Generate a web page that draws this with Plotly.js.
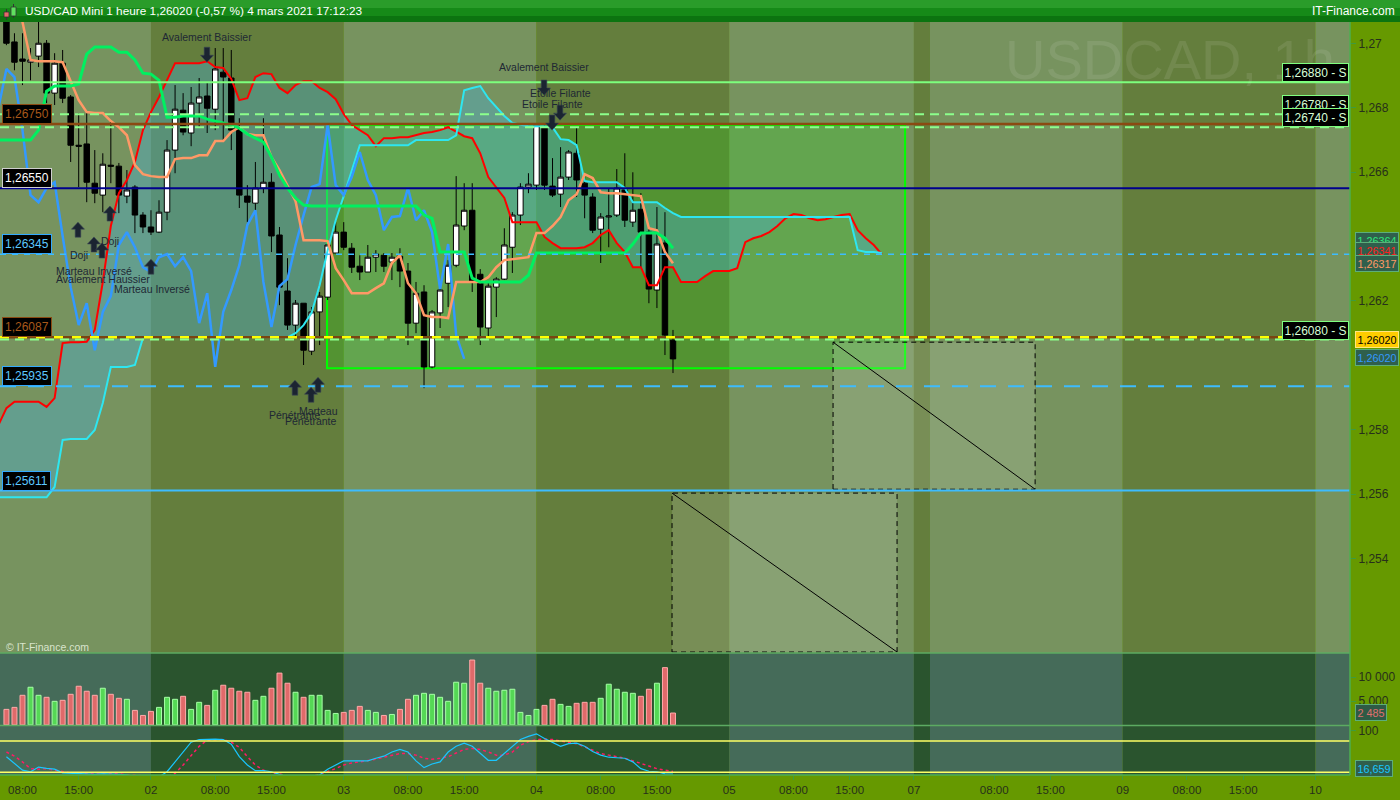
<!DOCTYPE html>
<html>
<head>
<meta charset="utf-8">
<script src="https://cdn.plot.ly/plotly-3.0.1.min.js"></script>
<style>
html,body{margin:0;padding:0;background:#669900;overflow:hidden;}
#chart{width:1400px;height:800px;}
</style>
</head>
<body>
<div id="chart"></div>
<script>
// ================= DATA =================
// Hourly candles, USD/CAD Mini, from 1 Mar 2021 06:00 (x = trading-hour index since 1 Mar 00:00)
const candleStartHour = 6;
const opens = [1.27067,1.27005,1.26952,1.26942,1.26961,1.27001,1.26846,1.26939,1.26834,1.26684,
 1.26688,1.26566,1.26529,1.26622,1.26619,1.26526,1.26554,1.26467,1.26430,1.26414,
 1.26476,1.26669,1.26793,1.26722,1.26815,1.26837,1.26796,1.26911,1.26893,1.26737,
 1.26526,1.26504,1.26551,1.26569,1.26405,1.26231,1.26125,1.26193,1.26044,1.26166,
 1.26212,1.26349,1.26414,1.26364,1.26308,1.26290,1.26336,1.26342,1.26321,1.26339,
 1.26293,1.26131,1.26228,1.25995,1.26163,1.26255,1.26311,1.26433,1.26482,1.26283,
 1.26116,1.26243,1.26268,1.26367,1.26467,1.26554,1.26560,1.26740,1.26557,1.26532,
 1.26585,1.26659,1.26566,1.26523,1.26423,1.26461,1.26467,1.26545,1.26445,1.26485,
 1.26414,1.26234,1.26380,1.26078];
const highs = [1.27079,1.27032,1.27032,1.26986,1.27067,1.27011,1.26970,1.26980,1.26840,1.26784,
 1.26787,1.26669,1.26659,1.26762,1.26629,1.26607,1.26560,1.26476,1.26482,1.26513,
 1.26700,1.26871,1.26846,1.26865,1.26893,1.26877,1.26986,1.26986,1.26980,1.26768,
 1.26560,1.26632,1.26768,1.26597,1.26430,1.26333,1.26203,1.26193,1.26181,1.26228,
 1.26389,1.26445,1.26445,1.26380,1.26342,1.26374,1.26358,1.26349,1.26349,1.26364,
 1.26318,1.26259,1.26249,1.26172,1.26243,1.26327,1.26588,1.26566,1.26566,1.26299,
 1.26259,1.26274,1.26426,1.26476,1.26566,1.26597,1.26747,1.26747,1.26644,1.26678,
 1.26669,1.26740,1.26585,1.26535,1.26473,1.26551,1.26610,1.26659,1.26600,1.26535,
 1.26426,1.26492,1.26476,1.26110];
const lows = [1.26995,1.26917,1.26871,1.26886,1.26927,1.26815,1.26809,1.26815,1.26632,1.26554,
 1.26507,1.26504,1.26476,1.26566,1.26473,1.26504,1.26411,1.26411,1.26405,1.26411,
 1.26451,1.26597,1.26715,1.26681,1.26740,1.26722,1.26731,1.26700,1.26669,1.26489,
 1.26445,1.26467,1.26535,1.26352,1.26187,1.26110,1.26088,1.26001,1.26032,1.26063,
 1.26203,1.26349,1.26358,1.26287,1.26265,1.26290,1.26290,1.26290,1.26265,1.26243,
 1.26063,1.26100,1.25929,1.25991,1.26116,1.26181,1.26305,1.26420,1.26228,1.26063,
 1.26088,1.26150,1.26265,1.26287,1.26436,1.26535,1.26545,1.26545,1.26523,1.26492,
 1.26576,1.26523,1.26457,1.26411,1.26318,1.26367,1.26461,1.26430,1.26430,1.26305,
 1.26193,1.26178,1.26032,1.25976];
const closes = [1.27001,1.26942,1.26945,1.26949,1.27001,1.26846,1.26939,1.26830,1.26684,1.26681,
 1.26569,1.26535,1.26625,1.26619,1.26529,1.26545,1.26467,1.26430,1.26414,1.26476,
 1.26669,1.26796,1.26725,1.26815,1.26834,1.26799,1.26921,1.26896,1.26731,1.26529,
 1.26507,1.26551,1.26569,1.26402,1.26243,1.26125,1.26193,1.26047,1.26166,1.26215,
 1.26374,1.26414,1.26367,1.26305,1.26290,1.26336,1.26346,1.26308,1.26336,1.26293,
 1.26131,1.26224,1.25995,1.26166,1.26234,1.26311,1.26436,1.26482,1.26259,1.26119,
 1.26246,1.26268,1.26374,1.26467,1.26554,1.26563,1.26747,1.26560,1.26529,1.26585,
 1.26663,1.26576,1.26529,1.26420,1.26461,1.26464,1.26551,1.26451,1.26482,1.26414,
 1.26237,1.26377,1.26094,1.26020];
const volumes = [3250,3670,6200,7890,6200,5780,4940,5150,6410,8100,
 7050,6200,7680,6410,5570,5360,3040,1980,2830,3670,
 5780,5360,5990,3250,4730,4090,7260,8310,7680,7050,
 6840,5150,5990,7680,10850,8730,6840,5780,6200,6200,
 3040,2400,2620,3040,3880,3040,2620,1980,2190,3250,
 5360,6200,6620,6410,5780,4940,8940,8730,13590,8730,
 7680,7050,7260,7470,2620,1980,3250,4090,5360,4300,
 3880,4520,4730,4730,5570,8520,7470,6840,6620,5990,
 7470,8730,12000,2485];
const volumeUp = [0,0,0,1,1,0,1,0,0,0,
 0,0,1,0,0,1,0,0,0,1,
 1,1,0,1,1,0,1,0,0,0,
 0,1,1,0,0,0,1,0,1,1,
 1,1,0,0,0,1,1,0,1,0,
 0,1,1,1,1,1,1,1,0,0,
 1,1,1,1,1,1,1,0,0,1,
 1,0,0,0,1,1,1,1,1,0,
 0,1,0,0];
const stochK = [50,37,24,21,30,27.5,26,19,18,17,
 17,16,17,17,16,15,11,12,11,11,
 21,40,59,78,83,84,84,83,74,50,
 34,23,23,21,16,11,10,10,12,15,
 26,34,42,42,42,42,47,51,59,64,
 59,42,29,36,40,59,70,76,70,56,
 43,43,56,70,83,89,94,85,78,70,
 75,76,70,60,53,49,48,47,40,27,
 22,21,17,16.659];
const stochD = [59,51,40,27,26,27,24,21,19,18,
 17,16,16,17,17,15,15,13,11,11,
 11,18,34,53,70,82,83,83,78,68,
 50,34,24,19,17,12,11,11,12,16,
 21,27,34,38,40,42,45,49,53,56,
 56,53,47,45,47,50,57,64,66,64,
 59,53,53,59,72,79,83,84,83,80,
 78,75,69,63,56,53,50,47,42,37,
 32,27,24,21.4];

// Ichimoku lines, hourly from 1 Mar 05:00
const lineStartHour = 5;
const tenkan = [1.27190,
 1.27166,1.27135,1.27067,1.26949,1.26945,1.26945,1.26945,1.26942,1.26880,1.26824,
 1.26787,1.26784,1.26784,1.26759,1.26740,1.26715,1.26622,1.26594,1.26588,1.26585,
 1.26585,1.26641,1.26644,1.26644,1.26653,1.26653,1.26697,1.26697,1.26725,1.26740,
 1.26719,1.26715,1.26715,1.26647,1.26607,1.26560,1.26510,1.26389,1.26389,1.26389,
 1.26386,1.26302,1.26265,1.26224,1.26224,1.26224,1.26240,1.26255,1.26318,1.26342,
 1.26255,1.26224,1.26156,1.26150,1.26150,1.26147,1.26259,1.26259,1.26259,1.26259,
 1.26274,1.26305,1.26327,1.26330,1.26333,1.26336,1.26411,1.26411,1.26433,1.26461,
 1.26513,1.26532,1.26594,1.26582,1.26538,1.26535,1.26535,1.26532,1.26529,1.26526,
 1.26426,1.26420,1.26352,1.26317];
const kijun = [1.26700,
 1.26700,1.26700,1.26700,1.26700,1.26731,1.26852,1.26868,1.26868,1.26868,1.26874,
 1.26967,1.26989,1.26989,1.26989,1.26973,1.26973,1.26949,1.26908,1.26905,1.26886,
 1.26771,1.26771,1.26775,1.26775,1.26775,1.26765,1.26759,1.26753,1.26747,1.26737,
 1.26719,1.26706,1.26694,1.26647,1.26591,1.26551,1.26520,1.26498,1.26495,1.26495,
 1.26495,1.26495,1.26495,1.26495,1.26495,1.26495,1.26495,1.26495,1.26495,1.26495,
 1.26495,1.26495,1.26467,1.26457,1.26352,1.26352,1.26352,1.26352,1.26271,1.26259,
 1.26259,1.26259,1.26259,1.26259,1.26259,1.26280,1.26349,1.26349,1.26349,1.26349,
 1.26349,1.26349,1.26349,1.26349,1.26349,1.26349,1.26349,1.26349,1.26377,1.26411,
 1.26411,1.26411,1.26395,1.26364];
const senkouA = [1.25814,
 1.25867,1.25887,1.25887,1.25887,1.25887,1.25871,1.25898,1.26069,1.26072,1.26072,
 1.26073,1.26110,1.26259,1.26433,1.26535,1.26576,1.26632,1.26731,1.26787,1.26834,
 1.26886,1.26939,1.26939,1.26939,1.26939,1.26945,1.26927,1.26924,1.26890,1.26824,
 1.26830,1.26896,1.26908,1.26905,1.26862,1.26846,1.26871,1.26883,1.26883,1.26862,
 1.26849,1.26827,1.26781,1.26747,1.26731,1.26715,1.26681,1.26706,1.26706,1.26709,
 1.26709,1.26715,1.26722,1.26725,1.26731,1.26740,1.26725,1.26712,1.26706,1.26659,
 1.26585,1.26551,1.26520,1.26445,1.26445,1.26445,1.26445,1.26399,1.26380,1.26364,
 1.26364,1.26364,1.26367,1.26380,1.26405,1.26420,1.26380,1.26352,1.26305,1.26305,
 1.26249,1.26249,1.26305,1.26305,1.26259,1.26259,1.26259,1.26277,1.26293,1.26293,
 1.26293,1.26302,1.26383,1.26395,1.26402,1.26414,1.26433,1.26457,1.26470,1.26467,
 1.26457,1.26451,1.26454,1.26461,1.26467,1.26470,1.26420,1.26395,1.26374,1.26345];
const senkouB = [1.25590,
 1.25590,1.25590,1.25590,1.25590,1.25590,1.25590,1.25622,1.25768,1.25771,1.25771,
 1.25771,1.25799,1.25883,1.25995,1.25995,1.25995,1.26001,1.26085,1.26087,1.26087,
 1.26087,1.26087,1.26087,1.26087,1.26087,1.26087,1.26087,1.26087,1.26087,1.26087,
 1.26087,1.26087,1.26087,1.26087,1.26087,1.26087,1.26100,1.26125,1.26163,1.26249,
 1.26358,1.26451,1.26526,1.26607,1.26684,1.26684,1.26684,1.26684,1.26684,1.26684,
 1.26684,1.26700,1.26700,1.26700,1.26700,1.26700,1.26715,1.26855,1.26862,1.26868,
 1.26830,1.26802,1.26775,1.26753,1.26747,1.26743,1.26743,1.26743,1.26740,1.26703,
 1.26700,1.26684,1.26573,1.26569,1.26569,1.26569,1.26569,1.26551,1.26507,1.26507,
 1.26507,1.26507,1.26489,1.26473,1.26461,1.26461,1.26461,1.26461,1.26461,1.26461,
 1.26461,1.26461,1.26461,1.26461,1.26461,1.26461,1.26461,1.26461,1.26461,1.26461,
 1.26461,1.26461,1.26461,1.26461,1.26461,1.26461,1.26358,1.26352,1.26352,1.26349];
const chikouShift = 26;

// Axis ticks
const tickHours  = [8,15,24,32,39,48,56,63,72,80,87,96,104,111,119,129,136,145,153,160,169];
const tickLabels = ['08:00','15:00','02','08:00','15:00','03','08:00','15:00','04','08:00','15:00',
                    '05','08:00','15:00','07','08:00','15:00','09','08:00','15:00','10'];
const dayStartHours = [24,48,72,96,119,121,145,169];
const priceTicks = [1.254,1.256,1.258,1.262,1.266,1.268,1.27];
const priceTickText = ['1,254','1,256','1,258','1,262','1,266','1,268','1,27'];

// Horizontal reference levels
const supportLevels = [1.26880, 1.26780, 1.26740, 1.26080];
const supportLabels = ['1,26880 - S','1,26780 - S','1,26740 - S','1,26080 - S'];
const userLevels = [1.26750, 1.26550, 1.26345, 1.26087, 1.25935, 1.25611];
const userLabels = ['1,26750','1,26550','1,26345','1,26087','1,25935','1,25611'];

// ================= BUILD =================
const W = 1400, H = 800, M = {l:0, r:50, t:22, b:25};
const PW = W - M.l - M.r, PH = H - M.t - M.b;
const fy = px => (H - M.b - px) / PH;
const fx = px => (px - M.l) / PW;
const X0 = 5.2, X1 = 173.3;
const priceRange = [1.25106, 1.27067];
const volRange = [-127, 15065];
const stochRange = [14.75, 108.6];
const PD = fy(653), VD = fy(725.5);

const candleHours = opens.map((_, i) => candleStartHour + i);
const lineHours = senkouA.map((_, i) => lineStartHour + i);
const tkHours = tenkan.map((_, i) => lineStartHour + i);
const chikouX = [], chikouY = [];
closes.forEach((c, j) => { const h = candleHours[j] - chikouShift; if (h >= lineStartHour) { chikouX.push(h); chikouY.push(c); } });

const FONT = 'Liberation Sans, Arial, sans-serif';

const traces = [
  {type:'scatter', mode:'lines', x:lineHours, y:senkouB, xaxis:'x', yaxis:'y', line:{width:0, color:'rgba(0,0,0,0)'}, hoverinfo:'skip'},
  {type:'scatter', mode:'lines', x:lineHours, y:senkouA, xaxis:'x', yaxis:'y', line:{width:0, color:'rgba(0,0,0,0)'}, fill:'tonexty', fillcolor:'rgba(70,175,215,0.38)', hoverinfo:'skip'},
  {type:'candlestick', x:candleHours, open:opens, high:highs, low:lows, close:closes, xaxis:'x', yaxis:'y4',
   increasing:{line:{color:'#000000', width:1}, fillcolor:'#ffffff'},
   decreasing:{line:{color:'#000000', width:1}, fillcolor:'#000000'}, whiskerwidth:0, hoverinfo:'skip'},
  {type:'bar', x:candleHours, y:volumes, xaxis:'x', yaxis:'y2', width:0.62,
   marker:{color:volumeUp.map(u => u ? '#55d855' : '#e06a6a'), line:{color:volumeUp.map(u => u ? '#a6ffa6' : '#ffaaaa'), width:1}}, hoverinfo:'skip'},
  {type:'scatter', mode:'lines', x:candleHours, y:stochD, xaxis:'x', yaxis:'y3', line:{color:'#ff1a66', width:1.5, dash:'dot'}, hoverinfo:'skip'},
  {type:'scatter', mode:'lines', x:candleHours, y:stochK, xaxis:'x', yaxis:'y3', line:{color:'#19c6ff', width:1.2}, hoverinfo:'skip'},
  {type:'scatter', mode:'lines', x:lineHours, y:senkouA, xaxis:'x', yaxis:'y5', line:{color:'#ff0000', width:2}, hoverinfo:'skip'},
  {type:'scatter', mode:'lines', x:lineHours, y:senkouB, xaxis:'x', yaxis:'y5', line:{color:'#2ee6f0', width:2}, hoverinfo:'skip'},
  {type:'scatter', mode:'lines', x:chikouX, y:chikouY, xaxis:'x', yaxis:'y5', line:{color:'#3399ff', width:2.5}, hoverinfo:'skip'},
  {type:'scatter', mode:'lines', x:tkHours, y:tenkan, xaxis:'x', yaxis:'y5', line:{color:'#ff9966', width:2.5}, hoverinfo:'skip'},
  {type:'scatter', mode:'lines', x:tkHours, y:kijun, xaxis:'x', yaxis:'y5', line:{color:'#00f060', width:3}, hoverinfo:'skip'}
];

const shapes = [];
// day bands
const edges = [X0, ...dayStartHours, X1];
for (let k = 0; k < edges.length - 1; k++) {
  const light = k % 2 === 0;
  shapes.push({type:'rect', xref:'x', yref:'paper', x0:edges[k], x1:edges[k+1], y0:PD, y1:1,
    fillcolor: light ? '#77935f' : '#647e3d', line:{width:0}, layer:'below'});
  shapes.push({type:'rect', xref:'x', yref:'paper', x0:edges[k], x1:edges[k+1], y0:0, y1:PD,
    fillcolor: light ? '#456b59' : '#2a542e', line:{width:0}, layer:'below'});
}
// green zone rectangle
shapes.push({type:'rect', xref:'x', yref:'y', x0:45.92, x1:117.9, y0:1.25991, y1:1.26747,
  fillcolor:'rgba(0,255,0,0.17)', line:{color:'#00ff00', width:2}, layer:'below'});
// dashed projection boxes
shapes.push({type:'rect', xref:'x', yref:'y', x0:108.93, x1:134.09, y0:1.25615, y1:1.26072,
  fillcolor:'rgba(255,255,255,0.13)', line:{color:'#000000', width:1, dash:'5px,4px'}, layer:'below'});
shapes.push({type:'line', xref:'x', yref:'y', x0:108.93, x1:134.09, y0:1.26072, y1:1.25615, line:{color:'#000000', width:1}, layer:'below'});
shapes.push({type:'rect', xref:'x', yref:'y', x0:88.88, x1:116.9, y0:1.25109, y1:1.25603,
  fillcolor:'rgba(255,255,255,0.13)', line:{color:'#000000', width:1, dash:'5px,4px'}, layer:'below'});
shapes.push({type:'line', xref:'x', yref:'y', x0:88.88, x1:116.9, y0:1.25603, y1:1.25109, line:{color:'#000000', width:1}, layer:'below'});

// horizontal levels
const hl = (p, color, width, dash) => shapes.push({type:'line', xref:'paper', yref:'y', x0:0, x1:1, y0:p, y1:p, line:{color, width, dash}, layer:'above'});
hl(supportLevels[0], '#7dff7d', 2, 'solid');
hl(supportLevels[1], '#8cff8c', 2, '9px,6px');
hl(supportLevels[2], '#8cff8c', 2, '9px,6px');
hl(userLevels[0], '#8b4a12', 2.5, 'solid');
hl(userLevels[1], '#00008c', 2, 'solid');
hl(userLevels[2], '#3dbcff', 1.6, '6px,6px');
hl(userLevels[3], '#7a4510', 2.5, 'solid');
hl(userLevels[3], '#ffff00', 2.5, '9px,9px');
hl(supportLevels[3], '#8cff8c', 2, '9px,6px');
hl(userLevels[4], '#3dbcff', 2, '16px,12px');
hl(userLevels[5], '#3dbcff', 2, 'solid');

// stochastic reference lines
[80, 20].forEach(v => shapes.push({type:'line', xref:'paper', yref:'y3', x0:0, x1:1, y0:v, y1:v, line:{color:'#ffff66', width:1.5}, layer:'above'}));
// panel separators / borders
[PD, VD].forEach(v => shapes.push({type:'line', xref:'paper', yref:'paper', x0:0, x1:1, y0:v, y1:v, line:{color:'#5cab62', width:1.5}, layer:'above'}));
shapes.push({type:'line', xref:'paper', yref:'paper', x0:0, x1:1, y0:0, y1:0, line:{color:'#4caf50', width:1.5}, layer:'above'});
shapes.push({type:'line', xref:'paper', yref:'paper', x0:1, x1:1, y0:0, y1:1, line:{color:'#4caf50', width:1.5}, layer:'above'});

// pattern arrows
const patternArrows = [
 {h:30.97, p:1.26942, d:-1}, {h:72.94, p:1.26840, d:-1}, {h:74.93, p:1.26762, d:-1}, {h:73.94, p:1.26731, d:-1},
 {h:14.91, p:1.26445, d:1}, {h:16.9, p:1.26399, d:1}, {h:17.9, p:1.26380, d:1}, {h:18.89, p:1.26495, d:1}, {h:24, p:1.26330, d:1},
 {h:41.93, p:1.25954, d:1}, {h:43.93, p:1.25932, d:1}, {h:44.8, p:1.25963, d:1}
];
patternArrows.forEach(a => {
  const s = a.d;  // 1 = up arrow (tip at anchor, body below)
  const path = `M0,0 L-6.5,${-7*s} L-2.8,${-7*s} L-2.8,${-15*s} L2.8,${-15*s} L2.8,${-7*s} L6.5,${-7*s} Z`;
  shapes.push({type:'path', xref:'x', yref:'y', xsizemode:'pixel', ysizemode:'pixel', xanchor:a.h, yanchor:a.p,
    path, fillcolor:'#1b2431', line:{color:'#3a4656', width:0.6}, layer:'above'});
});

// header bar
const hy = px => fy(px);
shapes.push({type:'rect', xref:'paper', yref:'paper', x0:fx(0), x1:fx(1400), y0:hy(22), y1:hy(0), fillcolor:'#168a18', line:{width:0}, layer:'above'});
shapes.push({type:'rect', xref:'paper', yref:'paper', x0:fx(0), x1:fx(1400), y0:hy(8), y1:hy(0), fillcolor:'#2a9c2a', line:{width:0}, layer:'above'});
shapes.push({type:'rect', xref:'paper', yref:'paper', x0:fx(0), x1:fx(1400), y0:hy(22), y1:hy(16), fillcolor:'#0c7410', line:{width:0}, layer:'above'});
// header icon
shapes.push({type:'line', xref:'paper', yref:'paper', x0:fx(6.5), x1:fx(6.5), y0:hy(20), y1:hy(9), line:{color:'#333', width:1}, layer:'above'});
shapes.push({type:'rect', xref:'paper', yref:'paper', x0:fx(4), x1:fx(9), y0:hy(17), y1:hy(12), fillcolor:'#e86a6a', line:{color:'#333', width:0.8}, layer:'above'});
shapes.push({type:'line', xref:'paper', yref:'paper', x0:fx(13.5), x1:fx(13.5), y0:hy(18), y1:hy(4), line:{color:'#333', width:1}, layer:'above'});
shapes.push({type:'rect', xref:'paper', yref:'paper', x0:fx(11), x1:fx(16), y0:hy(16), y1:hy(7), fillcolor:'#5fe05f', line:{color:'#333', width:0.8}, layer:'above'});

// ================= ANNOTATIONS =================
const annotations = [];
// watermark
annotations.push({xref:'paper', yref:'paper', x:fx(1003), y:fy(60), xanchor:'left', yanchor:'middle', showarrow:false,
  text:'USDCAD, 1h', font:{family:FONT, size:56, color:'rgba(255,255,255,0.09)'}});
// header texts
annotations.push({xref:'paper', yref:'paper', x:fx(23), y:fy(11), xanchor:'left', yanchor:'middle', showarrow:false,
  text:'USD/CAD Mini 1 heure 1,26020 (-0,57 %) 4 mars 2021 17:12:23', font:{family:FONT, size:11.8, color:'#ffffff'}});
annotations.push({xref:'paper', yref:'paper', x:fx(1397), y:fy(11), xanchor:'right', yanchor:'middle', showarrow:false,
  text:'IT-Finance.com', font:{family:FONT, size:12, color:'#ffffff'}});
// copyright
annotations.push({xref:'paper', yref:'paper', x:fx(4), y:fy(647), xanchor:'left', yanchor:'middle', showarrow:false,
  text:'© IT-Finance.com', font:{family:FONT, size:10.5, color:'rgba(235,245,225,0.85)'}});

// pattern labels
const patternLabels = [
 {h:30.97, p:1.27020, t:'Avalement Baissier'},
 {h:72.94, p:1.26927, t:'Avalement Baissier'},
 {h:74.93, p:1.26846, t:'Etoile Filante'},
 {h:73.94, p:1.26812, t:'Etoile Filante'},
 {h:18.89, p:1.26386, t:'Doji'},
 {h:15.03, p:1.26342, t:'Doji'},
 {h:16.9,  p:1.26293, t:'Marteau Inversé'},
 {h:18.02, p:1.26268, t:'Avalement Haussier'},
 {h:24.12, p:1.26237, t:'Marteau Inversé'},
 {h:44.92, p:1.25858, t:'Marteau'},
 {h:41.93, p:1.25845, t:'Pénétrante'},
 {h:43.93, p:1.25827, t:'Pénétrante'}
];
patternLabels.forEach(l => annotations.push({xref:'x', yref:'y', x:l.h, y:l.p, xanchor:'center', yanchor:'middle', showarrow:false,
  text:l.t, font:{family:FONT, size:10.5, color:'#1e2834'}}));

// left level boxes
const userStyles = [
 {b:'#8b4a12', f:'#a8581a'}, {b:'#cfcfcf', f:'#ffffff'}, {b:'#33aaff', f:'#5cc8ff'},
 {b:'#8b4a12', f:'#a8581a'}, {b:'#33aaff', f:'#5cc8ff'}, {b:'#33aaff', f:'#5cc8ff'}];
userLevels.forEach((p, k) => annotations.push({xref:'paper', yref:'y', x:fx(2), y:p, xanchor:'left', yanchor:'bottom', showarrow:false,
  text:userLabels[k], bgcolor:'#000000', bordercolor:userStyles[k].b, borderwidth:1, borderpad:2,
  font:{family:FONT, size:12, color:userStyles[k].f}}));
// right support boxes
supportLevels.forEach((p, k) => annotations.push({xref:'paper', yref:'y', x:1, xshift:-1, y:p, xanchor:'right', yanchor:'bottom', showarrow:false,
  text:supportLabels[k], bgcolor:'#000000', bordercolor:'#80ff80', borderwidth:1, borderpad:1.5,
  font:{family:FONT, size:12, color:'#d8ffd8'}}));

// right axis value tags
const tag = (yref, y, text, fg, bg, bd) => annotations.push({xref:'paper', yref, x:fx(1355), y, xanchor:'left', yanchor:'middle', showarrow:false,
  text, bgcolor:bg, bordercolor:bd, borderwidth:1, borderpad:1.5, font:{family:FONT, size:10.8, color:fg}});
tag('y', 1.26389, '1,26364', '#2ee87a', '#2f5f4c', '#5cae7a');
tag('y', 1.26357, '1,26341', '#ff2020', '#2f5f4c', '#5cae7a');
tag('y', 1.26318, '1,26317', '#ff9966', '#2f5f4c', '#5cae7a');
tag('y', 1.26079, '1,26020', '#000000', '#ffcc00', '#ffe680');
tag('y', 1.26025, '1,26020', '#3399ff', '#2f5f4c', '#5cae7a');
tag('y2', 2616, '2 485', '#e07070', '#2f5a45', '#5cae7a');
tag('y3', 28.2, '16,659', '#19c6ff', '#2f5f4c', '#5cae7a');

const axFont = {family:FONT, size:12, color:'#27301b'};
const yCommon = {side:'right', anchor:'x', ticks:'outside', ticklen:5, tickcolor:'#3f9a3f', tickfont:axFont,
  showgrid:false, zeroline:false, showline:false, fixedrange:true};

const layout = {
  width:W, height:H, margin:{l:M.l, r:M.r, t:M.t, b:M.b, pad:0},
  paper_bgcolor:'#669900', plot_bgcolor:'rgba(0,0,0,0)',
  showlegend:false, hovermode:false, separators:', ',
  boxgap:0.15, boxgroupgap:0.2,
  xaxis:{range:[X0, X1], anchor:'y3', tickvals:tickHours, ticktext:tickLabels, ticks:'outside', ticklen:4,
    tickcolor:'#3f9a3f', tickfont:{family:FONT, size:11.5, color:'#27301b'}, showgrid:false, zeroline:false,
    showline:false, fixedrange:true, rangeslider:{visible:false}},
  yaxis:Object.assign({}, yCommon, {domain:[PD, 1], range:priceRange, tickvals:priceTicks, ticktext:priceTickText}),
  yaxis2:Object.assign({}, yCommon, {domain:[VD, PD], range:volRange, tickvals:[5000, 10000], ticktext:['5 000', '10 000']}),
  yaxis3:Object.assign({}, yCommon, {domain:[0, VD - 0.001], range:stochRange, tickvals:[100], ticktext:['100']}),
  yaxis4:{overlaying:'y', anchor:'x', side:'right', range:priceRange, visible:false, fixedrange:true},
  yaxis5:{overlaying:'y', anchor:'x', side:'right', range:priceRange, visible:false, fixedrange:true},
  shapes, annotations
};

Plotly.newPlot('chart', traces, layout, {staticPlot:true, displayModeBar:false});
</script>
</body>
</html>
